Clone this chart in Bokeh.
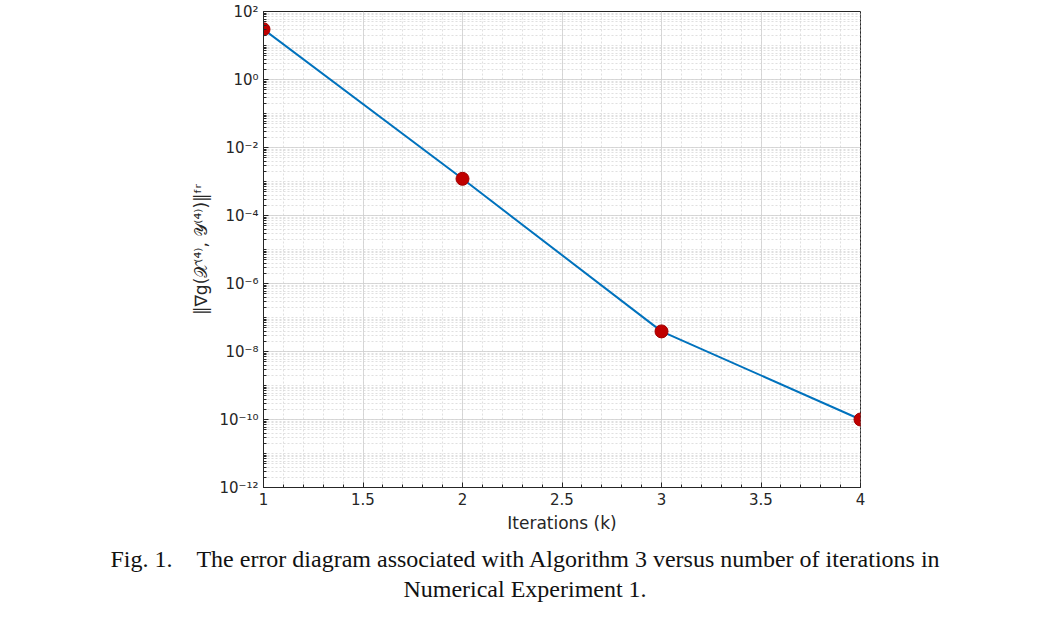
import numpy as np
from bokeh.plotting import figure
from bokeh.models import FixedTicker, CustomJSTickFormatter, Div, Range1d
from bokeh.layouts import column
from bokeh.embed import file_html
from bokeh.resources import INLINE

iterations = [1, 2, 3, 4]
errors = [30.0, 1.2e-3, 3.9e-8, 1.0e-10]
y_tick_exps = [-12, -10, -8, -6, -4, -2, 0, 2]
x_ticks = [1, 1.5, 2, 2.5, 3, 3.5, 4]

p = figure(width=1040, height=556, y_axis_type="log", output_backend="svg",
           toolbar_location=None, x_range=Range1d(1, 4), y_range=Range1d(1e-12, 1e2),
           frame_width=597, frame_height=476, min_border_left=263,
           min_border_top=11, min_border_right=180)
p.outline_line_color = "#262626"
p.background_fill_color = "white"

minor = []
for e in range(-12, 2):
    for k in range(1, 10):
        minor.append(k * 10.0 ** e)
p.yaxis.ticker = FixedTicker(ticks=[10.0 ** e for e in y_tick_exps], minor_ticks=minor)
p.yaxis.formatter = CustomJSTickFormatter(code="""
const sup = {'-':'\u207b','0':'\u2070','1':'\u00b9','2':'\u00b2','3':'\u00b3','4':'\u2074','5':'\u2075','6':'\u2076','7':'\u2077','8':'\u2078','9':'\u2079'};
const e = Math.round(Math.log10(tick)).toString();
return '10' + e.split('').map(c => sup[c]).join('');
""")
p.xaxis.ticker = FixedTicker(ticks=x_ticks, minor_ticks=list(np.arange(1, 4.01, 0.1)))

for ax in (p.xaxis, p.yaxis):
    ax.major_label_text_font = "DejaVu Sans"
    ax.major_label_text_font_size = "15px"
    ax.major_label_text_color = "#262626"
    ax.axis_line_color = "#262626"
    ax.major_tick_line_color = "#262626"
    ax.minor_tick_line_color = "#262626"
    ax.major_tick_in = 5
    ax.major_tick_out = 0
    ax.minor_tick_in = 3
    ax.minor_tick_out = 0

p.xaxis.axis_label = "Iterations (k)"
p.yaxis.axis_label = "\u2016\u2207g(\U0001d4b3\u207d\u2074\u207e, \U0001d4b4\u207d\u2074\u207e)\u2016\u1da0\u02b3"
for ax in (p.xaxis, p.yaxis):
    ax.axis_label_text_font = "DejaVu Sans"
    ax.axis_label_text_font_style = "normal"
    ax.axis_label_text_font_size = "17px"
    ax.axis_label_text_color = "#262626"

for g in (p.xgrid, p.ygrid):
    g.grid_line_color = "#d0d0d0"
    g.grid_line_alpha = 0.8
    g.minor_grid_line_color = "#d8d8d8"
    g.minor_grid_line_dash = "2 2"
    g.minor_grid_line_alpha = 0.8

p.line(iterations, errors, line_color="#0072bd", line_width=2)
p.scatter(iterations, errors, size=13, fill_color="#c00000", line_color="#a00000")

cap = Div(text="<div style='width:1040px;margin-top:4px;font-family:\"Liberation Serif\";font-size:24px;"
               "line-height:30px;text-align:center;color:#111'>"
               "Fig. 1.&nbsp;&nbsp;&nbsp;&nbsp;The error diagram associated with Algorithm 3 versus number of iterations in<br>"
               "Numerical Experiment 1.</div>", width=1040)

layout = column(p, cap, spacing=0)
open("out.html", "w").write(file_html(layout, INLINE))
